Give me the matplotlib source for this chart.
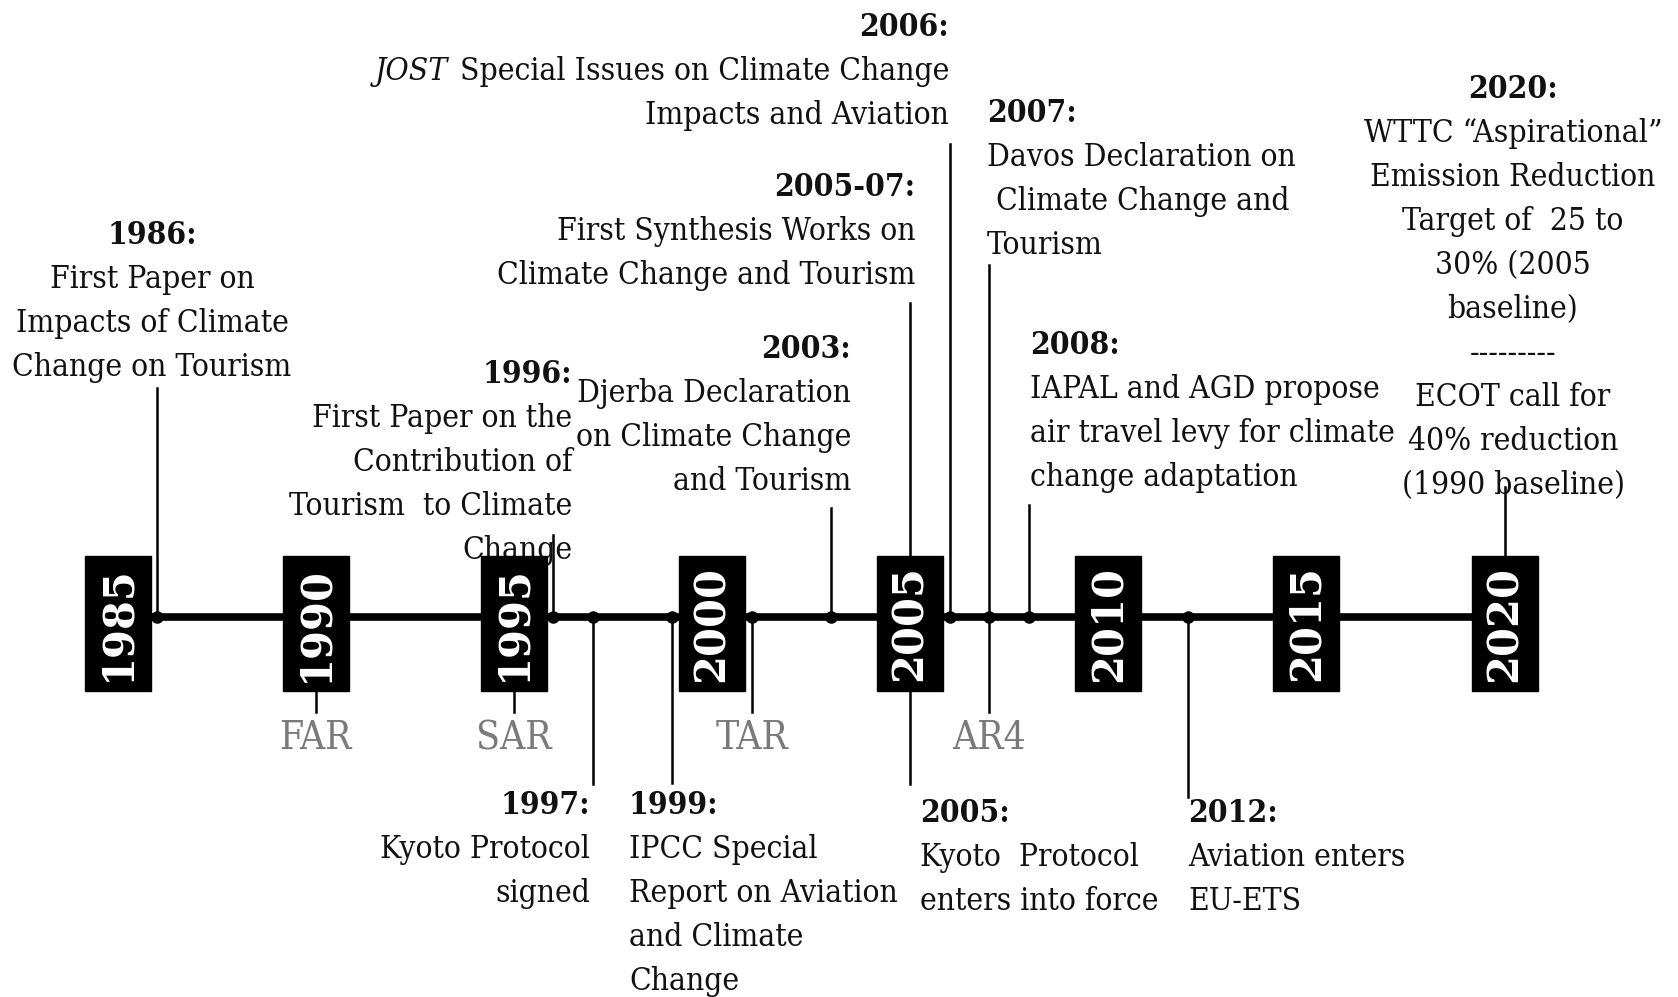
import matplotlib
matplotlib.use('Agg')
import matplotlib.pyplot as plt
from matplotlib.patches import Rectangle

# ---------------- data ----------------
box_years = [1985, 1990, 1995, 2000, 2005, 2010, 2015, 2020]

ipcc_labels = ['FAR', 'SAR', 'TAR', 'AR4']
ipcc_years = [1990, 1995, 2001, 2007]

above_years = [1986, 1996, 2003, 2005, 2006, 2007, 2008, 2020]
above_titles = ['1986:', '1996:', '2003:', '2005-07:', '2006:', '2007:', '2008:', '2020:']
above_texts = [
    ['First Paper on', 'Impacts of Climate', 'Change on Tourism'],
    ['First Paper on the', 'Contribution of', 'Tourism  to Climate', 'Change'],
    ['Djerba Declaration', 'on Climate Change', 'and Tourism'],
    ['First Synthesis Works on', 'Climate Change and Tourism'],
    ['JOST  Special Issues on Climate Change', 'Impacts and Aviation'],
    ['Davos Declaration on', ' Climate Change and', 'Tourism'],
    ['IAPAL and AGD propose', 'air travel levy for climate', 'change adaptation'],
    ['WTTC \u201cAspirational\u201d', 'Emission Reduction', 'Target of  25 to',
     '30% (2005', 'baseline)', '---------', 'ECOT call for', '40% reduction',
     '(1990 baseline)'],
]

below_years = [1997, 1999, 2005, 2012]
below_titles = ['1997:', '1999:', '2005:', '2012:']
below_texts = [
    ['Kyoto Protocol', 'signed'],
    ['IPCC Special', 'Report on Aviation', 'and Climate', 'Change'],
    ['Kyoto  Protocol', 'enters into force'],
    ['Aviation enters', 'EU-ETS'],
]

# ---------------- layout (pixels) ----------------
W, H, DPI = 1678, 997, 100
X0, PPY = 117.5, 39.63          # pixel of first box centre, pixels per year
LINE_Y = 617
BOX_TOP, BOX_H, BOX_W = 556, 135, 66
SP = 44                          # line spacing of annotation blocks

# (anchor x px, title baseline px, ha, stem end px)
above_layout = [
    (152, 244, 'center', 388),
    (572, 383, 'right', 535),
    (851, 358, 'right', 508),
    (915, 196, 'right', 303),
    (949, 36, 'right', 144),
    (987, 122, 'left', 265),
    (1030, 354, 'left', 505),
    (1513, 98, 'center', 487),
]
below_layout = [
    (590, 814, 'right', 784),
    (629, 814, 'left', 783),
    (920, 822, 'left', 784),
    (1188, 822, 'left', 797),
]
ipcc_stem_end = 712
ipcc_label_base = 749

FONT = 'DejaVu Serif'
plt.rcParams['font.family'] = [FONT]
INK = '#111111'
BODY = dict(fontsize=22.8, fontstretch='condensed', color=INK)
TITLE = dict(fontsize=22.8, fontweight='bold', fontstretch='condensed', color=INK)


def yr(px):
    return 1985 + (px - X0) / PPY


fig = plt.figure(figsize=(W / DPI, H / DPI), dpi=DPI)
ax = fig.add_axes([0, 0, 1, 1])
ax.set_xlim(yr(0), yr(W))
ax.set_ylim(H, 0)
ax.axis('off')

bw = BOX_W / PPY
# timeline
ax.plot([box_years[0] - bw / 2, box_years[-1] + bw / 2], [LINE_Y, LINE_Y],
        color='black', lw=5.5, zorder=2, solid_capstyle='butt')

# stems + dots
stem_kw = dict(color='black', lw=1.8, zorder=1)
for y, lay in zip(above_years, above_layout):
    ax.plot([y, y], [LINE_Y, lay[3]], **stem_kw)
for y, lay in zip(below_years, below_layout):
    ax.plot([y, y], [LINE_Y, lay[3]], **stem_kw)
for y in ipcc_years:
    ax.plot([y, y], [LINE_Y, ipcc_stem_end], **stem_kw)
dot_years = sorted(set(above_years + below_years + ipcc_years))
ax.plot(dot_years, [LINE_Y] * len(dot_years), 'o', color='black', ms=8, zorder=3)

# year boxes
for y in box_years:
    ax.add_patch(Rectangle((y - bw / 2, BOX_TOP), bw, BOX_H, facecolor='black',
                           edgecolor='black', zorder=4))
    ax.text(y, BOX_TOP + BOX_H / 2, str(y), rotation=90, ha='center', va='center',
            color='white', fontsize=30, fontweight='bold', zorder=5)

# IPCC report labels
for lab, y in zip(ipcc_labels, ipcc_years):
    ax.text(y, ipcc_label_base, lab, ha='center', va='baseline', color='#7a7a7a',
            fontsize=28, fontstretch='condensed')

renderer = fig.canvas.get_renderer()


def draw_line(x, yb, s, ha):
    if s.startswith('JOST'):
        rest = s[4:].lstrip()
        t = ax.text(x, yb, rest, ha=ha, va='baseline', **BODY)
        bb = t.get_window_extent(renderer)
        left = ax.transData.inverted().transform((bb.x0 - 12, 0))[0]
        ax.text(left, yb, 'JOST', ha='right', va='baseline', style='italic', **BODY)
    else:
        ax.text(x, yb, s, ha=ha, va='baseline', **BODY)


def block(title, lines, lay):
    xp, yb, ha, _ = lay
    x = yr(xp)
    ax.text(x, yb, title, ha=ha, va='baseline', **TITLE)
    for i, s in enumerate(lines):
        draw_line(x, yb + (i + 1) * SP, s, ha)


for t, l, lay in zip(above_titles, above_texts, above_layout):
    block(t, l, lay)
for t, l, lay in zip(below_titles, below_texts, below_layout):
    block(t, l, lay)

fig.savefig('out.png', dpi=DPI, facecolor='white')
